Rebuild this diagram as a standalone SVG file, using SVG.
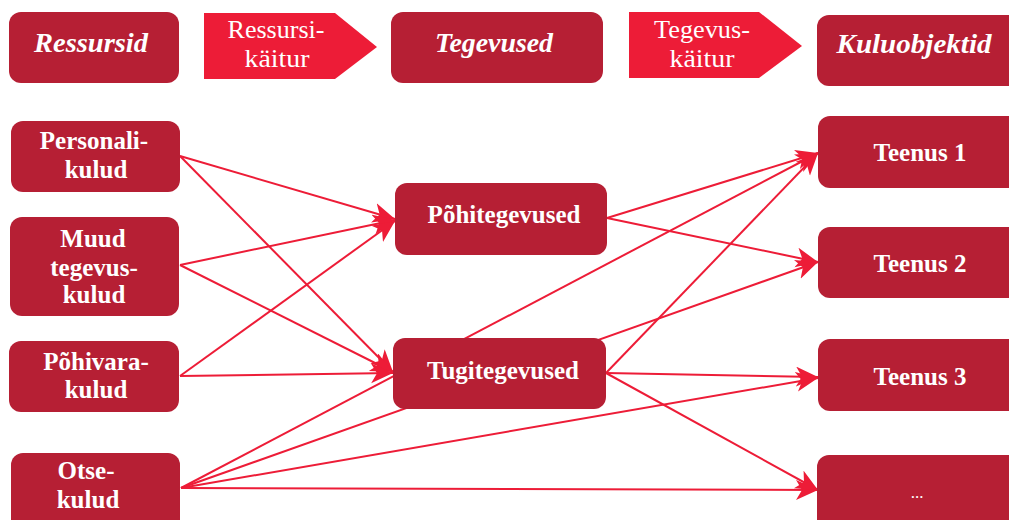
<svg xmlns="http://www.w3.org/2000/svg" width="1009" height="520" viewBox="0 0 1009 520">
<style>
.box{fill:#B61F34;}
.arr{fill:#ED1C37;}
.hd{font-family:"Liberation Serif",serif;font-style:italic;font-weight:bold;font-size:27px;fill:#fff;text-anchor:middle;}
.al{font-family:"Liberation Serif",serif;font-size:25px;fill:#fff;text-anchor:middle;}
.nt{font-family:"Liberation Serif",serif;font-weight:bold;font-size:25px;fill:#fff;text-anchor:middle;}
.sm{font-family:"Liberation Serif",serif;font-size:17px;fill:#fff;text-anchor:middle;}
.ln{stroke:#ED1C37;stroke-width:2;fill:none;marker-end:url(#ah);}
</style>
<defs>
<marker id="ah" markerUnits="userSpaceOnUse" markerWidth="24" markerHeight="22" refX="22" refY="10" orient="auto" viewBox="0 0 24 22">
<path d="M0,0 L22,10 L0,20 L6,10 Z" fill="#ED1C37"/>
</marker>
</defs>
<rect width="1009" height="520" fill="#fff"/>
<g id="connectors">
<line class="ln" x1="180" y1="156" x2="395" y2="219"/>
<line class="ln" x1="180" y1="156" x2="393" y2="372"/>
<line class="ln" x1="180" y1="265" x2="395" y2="220"/>
<line class="ln" x1="180" y1="265" x2="393" y2="372"/>
<line class="ln" x1="180" y1="376" x2="395" y2="221"/>
<line class="ln" x1="180" y1="376" x2="393" y2="373"/>
<line class="ln" x1="181" y1="488" x2="818" y2="153"/>
<line class="ln" x1="181" y1="488" x2="818" y2="262"/>
<line class="ln" x1="181" y1="488" x2="818" y2="378"/>
<line class="ln" x1="181" y1="488" x2="818" y2="490"/>
<line class="ln" x1="607" y1="218" x2="818" y2="153"/>
<line class="ln" x1="607" y1="218" x2="818" y2="262"/>
<line class="ln" x1="606" y1="373" x2="818" y2="153"/>
<line class="ln" x1="606" y1="373" x2="818" y2="377"/>
<line class="ln" x1="606" y1="373" x2="818" y2="490"/>
</g>
<g id="ressursid">
<rect class="box" x="9" y="12" width="170" height="71" rx="12"/>
<text class="hd" x="91" y="52" textLength="114" lengthAdjust="spacingAndGlyphs">Ressursid</text>
</g>
<g id="ressursikaitur">
<polygon class="arr" points="204,13 335,13 377,47 335,79 204,79"/>
<text class="al" x="276" y="38" textLength="97" lengthAdjust="spacingAndGlyphs">Ressursi-</text>
<text class="al" x="277" y="67" textLength="65" lengthAdjust="spacingAndGlyphs">käitur</text>
</g>
<g id="tegevused">
<rect class="box" x="391" y="12" width="212" height="71" rx="12"/>
<text class="hd" x="494" y="52" textLength="118" lengthAdjust="spacingAndGlyphs">Tegevused</text>
</g>
<g id="tegevuskaitur">
<polygon class="arr" points="629,12 759,12 802,46 759,78 629,78"/>
<text class="al" x="702" y="38" textLength="96" lengthAdjust="spacingAndGlyphs">Tegevus-</text>
<text class="al" x="702" y="67" textLength="65" lengthAdjust="spacingAndGlyphs">käitur</text>
</g>
<g id="kuluobjektid">
<rect class="box" x="817" y="15" width="210" height="71" rx="12"/>
<text class="hd" x="914" y="53" textLength="155" lengthAdjust="spacingAndGlyphs">Kuluobjektid</text>
</g>
<g id="personalikulud">
<rect class="box" x="11" y="121" width="169" height="71" rx="12"/>
<text class="nt" x="94" y="149">Personali-</text>
<text class="nt" x="96" y="178">kulud</text>
</g>
<g id="muudtegevuskulud">
<rect class="box" x="10" y="217" width="169" height="99" rx="12"/>
<text class="nt" x="93" y="247">Muud</text>
<text class="nt" x="94" y="276">tegevus-</text>
<text class="nt" x="94" y="303">kulud</text>
</g>
<g id="pohivarakulud">
<rect class="box" x="9" y="341" width="170" height="71" rx="12"/>
<text class="nt" x="96" y="370">Põhivara-</text>
<text class="nt" x="96" y="398">kulud</text>
</g>
<g id="otsekulud">
<rect class="box" x="11" y="453" width="169" height="80" rx="12"/>
<text class="nt" x="86" y="479">Otse-</text>
<text class="nt" x="88" y="508">kulud</text>
</g>
<g id="pohitegevused">
<rect class="box" x="395" y="183" width="212" height="72" rx="12"/>
<text class="nt" x="504" y="223">Põhitegevused</text>
</g>
<g id="tugitegevused">
<rect class="box" x="393" y="338" width="213" height="71" rx="12"/>
<text class="nt" x="503" y="379">Tugitegevused</text>
</g>
<g id="teenus1">
<rect class="box" x="818" y="116" width="210" height="72" rx="12"/>
<text class="nt" x="920" y="161">Teenus 1</text>
</g>
<g id="teenus2">
<rect class="box" x="818" y="227" width="210" height="71" rx="12"/>
<text class="nt" x="920" y="272">Teenus 2</text>
</g>
<g id="teenus3">
<rect class="box" x="818" y="339" width="210" height="72" rx="12"/>
<text class="nt" x="920" y="385">Teenus 3</text>
</g>
<g id="teenusmore">
<rect class="box" x="817" y="455" width="211" height="80" rx="12"/>
<text class="sm" x="917" y="498">...</text>
</g>
</svg>
